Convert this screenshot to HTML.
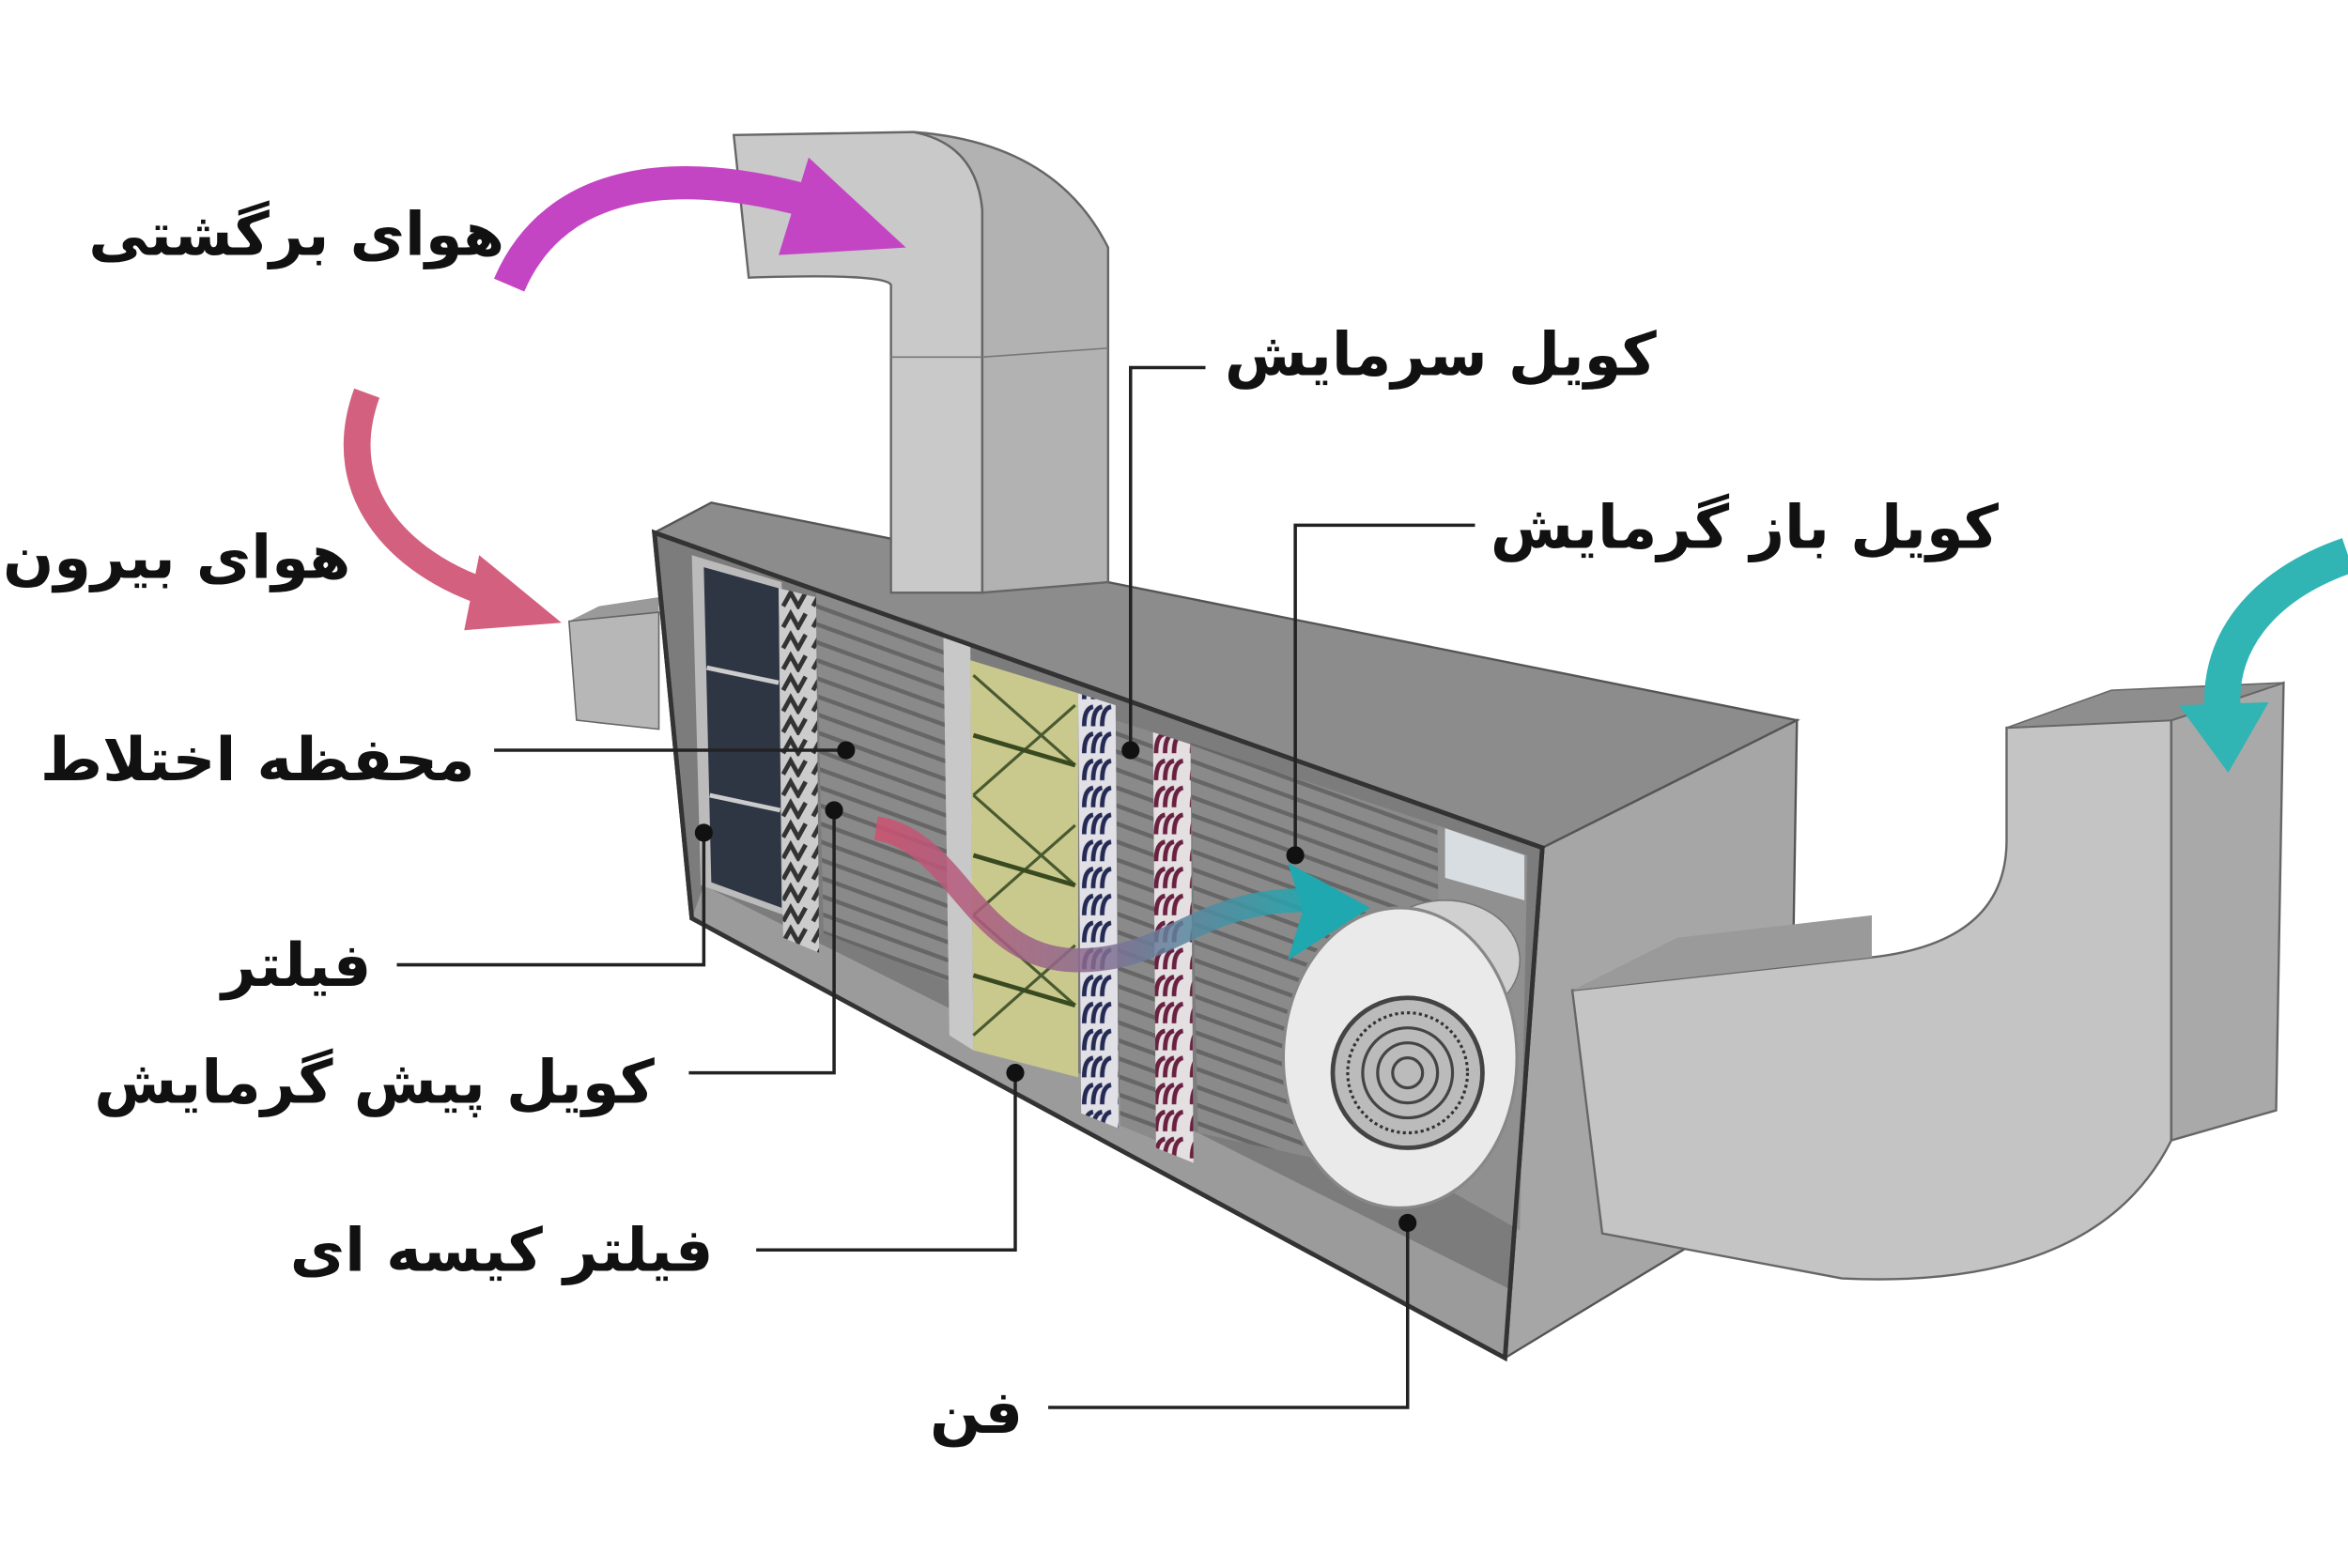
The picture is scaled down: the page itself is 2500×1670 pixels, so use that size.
<!DOCTYPE html>
<html><head><meta charset="utf-8"><style>
html,body{margin:0;padding:0;background:#fff;}
svg{display:block}
text{font-family:"DejaVu Sans","Liberation Sans",sans-serif;font-weight:bold;fill:#111;}
</style></head><body>
<svg width="2500" height="1670" viewBox="0 0 1568 1045" preserveAspectRatio="none" xmlns="http://www.w3.org/2000/svg">
<defs>
<linearGradient id="flow" x1="0" y1="0" x2="1" y2="0">
<stop offset="0" stop-color="#d05070"/><stop offset="0.5" stop-color="#8a6a90"/><stop offset="1" stop-color="#20a8b0"/>
</linearGradient>
<pattern id="stripes" width="10" height="12" patternUnits="userSpaceOnUse" patternTransform="skewY(20)">
<rect width="10" height="12" fill="#8a8a8a"/><rect y="0" width="10" height="3" fill="#666"/>
</pattern>
<pattern id="coilB" width="24" height="18" patternUnits="userSpaceOnUse">
<rect width="24" height="18" fill="#e0e0e6"/><path d="M4,16 Q4,4 10,3 M10,16 Q10,4 16,3 M16,16 Q16,4 22,3" stroke="#252a55" stroke-width="3" fill="none"/>
</pattern>
<pattern id="coilR" width="24" height="18" patternUnits="userSpaceOnUse">
<rect width="24" height="18" fill="#e4e0e2"/><path d="M4,16 Q4,4 10,3 M10,16 Q10,4 16,3 M16,16 Q16,4 22,3" stroke="#6a2040" stroke-width="3" fill="none"/>
</pattern>
<pattern id="coilK" width="20" height="14" patternUnits="userSpaceOnUse">
<rect width="20" height="14" fill="#ccc"/><path d="M3,12 L8,3 L13,12 L18,3" stroke="#333" stroke-width="3" fill="none"/>
</pattern>
</defs>
<rect width="1568" height="1045" fill="#fff"/>

<!-- left inlet duct -->
<polygon points="380,414 400,404 440,398 440,410" fill="#9a9a9a"/>
<polygon points="380,414 440,408 440,486 385,480" fill="#b7b7b7" stroke="#666" stroke-width="1"/>

<!-- box top face -->
<polygon points="437,355 475,335 1200,480 1030,565" fill="#8c8c8c" stroke="#555" stroke-width="1.5"/>
<!-- right face -->
<polygon points="1030,565 1200,480 1195,790 1005,905" fill="#a6a6a6" stroke="#555" stroke-width="1.5"/>
<!-- front interior -->
<polygon points="437,355 1030,565 1005,905 462,612" fill="#7c7c7c" stroke="#333" stroke-width="3"/>
<!-- interior floor -->
<polygon points="470,590 1010,860 1005,905 462,612" fill="#9b9b9b"/>
<!-- striped sections -->
<polygon points="545,395 630,420 635,655 550,622" fill="url(#stripes)"/>
<polygon points="795,495 960,550 962,790 800,755" fill="url(#stripes)"/>
<polygon points="745,480 770,488 772,760 748,750" fill="url(#stripes)"/>
<!-- fan housing area -->
<polygon points="960,550 1020,570 1015,820 962,790" fill="#909090"/>
<polygon points="965,552 1018,570 1018,600 965,585" fill="#d8dde2"/>
<!-- filter panel -->
<polygon points="462,370 522,388 524,610 468,590" fill="#bbb"/>
<polygon points="470,378 520,392 522,605 475,588" fill="#2e3644"/>
<line x1="472" y1="445" x2="520" y2="455" stroke="#ccc" stroke-width="3"/>
<line x1="474" y1="530" x2="521" y2="540" stroke="#ccc" stroke-width="3"/>
<!-- preheat coil -->
<polygon points="520,392 545,398 547,635 523,625" fill="url(#coilK)"/>
<!-- divider -->
<polygon points="630,425 648,430 650,700 634,690" fill="#c8c8c8"/>
<!-- bag filter -->
<polygon points="648,440 720,462 720,718 650,700" fill="#c9c98e"/>
<path d="M650,450 L718,510 M718,470 L650,530 M650,530 L718,590 M718,550 L650,610 M650,610 L718,670 M718,630 L650,690" stroke="#4a5a30" stroke-width="2"/>
<line x1="650" y1="490" x2="718" y2="510" stroke="#3a4a20" stroke-width="3"/>
<line x1="650" y1="570" x2="718" y2="590" stroke="#3a4a20" stroke-width="3"/>
<line x1="650" y1="650" x2="718" y2="670" stroke="#3a4a20" stroke-width="3"/>
<!-- cooling coil -->
<polygon points="720,462 745,470 747,752 722,742" fill="url(#coilB)"/>
<!-- reheat coil -->
<polygon points="770,488 795,496 797,775 772,765" fill="url(#coilR)"/>
<!-- fan -->
<ellipse cx="965" cy="640" rx="50" ry="40" fill="#d0d0d0" stroke="#777"/>
<ellipse cx="935" cy="705" rx="78" ry="100" fill="#eaeaea" stroke="#888" stroke-width="2"/>
<circle cx="940" cy="715" r="50" fill="#bbb" stroke="#444" stroke-width="3"/>
<circle cx="940" cy="715" r="40" fill="none" stroke="#333" stroke-width="2" stroke-dasharray="2,2"/>
<circle cx="940" cy="715" r="30" fill="none" stroke="#444" stroke-width="2"/>
<circle cx="940" cy="715" r="20" fill="none" stroke="#444" stroke-width="2"/>
<circle cx="940" cy="715" r="10" fill="none" stroke="#444" stroke-width="2"/>
<!-- front frame re-stroke -->
<polygon points="437,355 1030,565 1005,905 462,612" fill="none" stroke="#333" stroke-width="3"/>

<!-- internal flow arrow -->
<path d="M585,552 C640,560 650,640 720,640 C780,640 800,600 870,600" stroke="url(#flow)" stroke-width="16" fill="none" opacity="0.85"/>
<polygon points="860,575 915,605 860,640 870,607" fill="#20a8b0"/>

<!-- return duct -->
<path d="M490,90 L610,88 Q652,96 656,140 L656,395 L595,395 L595,190 Q592,182 500,185 Z" fill="#c9c9c9" stroke="#666" stroke-width="1.5"/>
<path d="M610,88 Q705,95 740,165 L740,388 L656,395 L656,140 Q652,96 610,88 Z" fill="#b2b2b2" stroke="#666" stroke-width="1.5"/>
<line x1="595" y1="238" x2="656" y2="238" stroke="#777"/>
<line x1="656" y1="238" x2="740" y2="232" stroke="#777"/>

<!-- outlet duct -->
<path d="M1050,660 L1250,638 Q1340,628 1340,560 L1340,485 L1450,480 L1450,760 Q1400,860 1230,852 L1070,822 Z" fill="#c4c4c4" stroke="#666" stroke-width="1.5"/>
<path d="M1450,480 L1525,455 L1520,740 L1450,760 Z" fill="#a9a9a9" stroke="#666" stroke-width="1.5"/>
<polygon points="1340,485 1410,460 1525,455 1450,480" fill="#8e8e8e" stroke="#666"/>
<polygon points="1050,660 1120,625 1250,610 1250,638" fill="#9a9a9a"/>

<!-- external arrows -->
<path d="M340,190 C370,120 450,105 560,140" stroke="#c445c4" stroke-width="22" fill="none"/>
<polygon points="540,105 605,165 520,170" fill="#c445c4"/>
<path d="M245,262 C220,330 270,380 335,398" stroke="#d3607e" stroke-width="18" fill="none"/>
<polygon points="320,370 375,415 310,420" fill="#d3607e"/>
<path d="M1568,370 C1510,390 1478,430 1485,480" stroke="#30b4b4" stroke-width="24" fill="none"/>
<polygon points="1455,470 1488,515 1515,468" fill="#30b4b4"/>

<!-- leaders -->
<g stroke="#222" stroke-width="2.2" fill="none">
<polyline points="805,245 755,245 755,500"/>
<polyline points="985,350 865,350 865,570"/>
<polyline points="330,500 565,500"/>
<polyline points="265,643 470,643 470,555"/>
<polyline points="460,715 557,715 557,540"/>
<polyline points="505,833 678,833 678,715"/>
<polyline points="700,938 940,938 940,815"/>
</g>
<g fill="#111">
<circle cx="755" cy="500" r="6"/><circle cx="865" cy="570" r="6"/><circle cx="565" cy="500" r="6"/>
<circle cx="470" cy="555" r="6"/><circle cx="557" cy="540" r="6"/><circle cx="678" cy="715" r="6"/><circle cx="940" cy="815" r="6"/>
</g>

<!-- labels -->
<g font-size="40" text-anchor="middle">
<text x="198" y="170">هوای برگشتی</text>
<text x="962" y="250">کویل سرمایش</text>
<text x="1165" y="365">کویل باز گرمایش</text>
<text x="118" y="385">هوای بیرون</text>
<text x="172" y="520">محفظه اختلاط</text>
<text x="198" y="657">فیلتر</text>
<text x="250" y="735">کویل پیش گرمایش</text>
<text x="335" y="847">فیلتر کیسه ای</text>
<text x="652" y="955">فن</text>
</g>
</svg>
</body></html>
